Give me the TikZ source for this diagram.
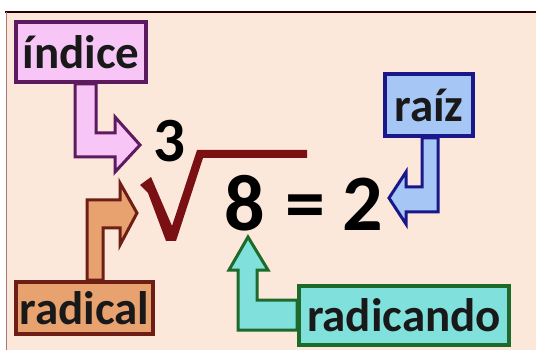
\documentclass[tikz,border=0pt]{standalone}
\usepackage{fontspec}
\setmainfont{Carlito}
\usepackage{xcolor}
\usepackage{tikz}

\definecolor{peach}{HTML}{FCE8DB}
\definecolor{idxfill}{HTML}{F7C6F7}
\definecolor{idxline}{HTML}{5E1A5E}
\definecolor{rootfill}{HTML}{A6C6F6}
\definecolor{rootline}{HTML}{18188A}
\definecolor{radfill}{HTML}{E8A270}
\definecolor{radline}{HTML}{6E1E14}
\definecolor{argfill}{HTML}{80E0DC}
\definecolor{argline}{HTML}{1D6A2A}
\definecolor{signred}{HTML}{7A0F14}

\begin{document}
\begin{tikzpicture}[
  x=1pt,
  y=-1pt,
  tagbox/.style={line width=3.6pt, inner sep=0pt,
    font=\fontsize{47}{50}\selectfont\bfseries, text=black!90},
  idxbox/.style={tagbox, draw=idxline, fill=idxfill},
  rootbox/.style={tagbox, draw=rootline, fill=rootfill},
  radbox/.style={tagbox, draw=radline, fill=radfill},
  argbox/.style={tagbox, draw=argline, fill=argfill},
  blockarrow/.style={line width=3pt, line join=miter},
  idxarrow/.style={blockarrow, draw=idxline, fill=idxfill},
  rootarrow/.style={blockarrow, draw=rootline, fill=rootfill},
  radarrow/.style={blockarrow, draw=radline, fill=radfill},
  argarrow/.style={blockarrow, draw=argline, fill=argfill},
  bigterm/.style={font=\fontsize{80}{84}\selectfont\bfseries, text=black,
    inner sep=0pt, anchor=base},
  smallterm/.style={bigterm, font=\fontsize{63}{66}\selectfont\bfseries}
]
\useasboundingbox (0,0) rectangle (536,350);

% Page background with the frame on top and left.
\fill[white] (0,0) rectangle (536,350);
\fill[peach] (6,12) rectangle (536,350);
\draw[line width=2.5pt, draw=black!85!red] (5,12) -- (536,12);
\draw[line width=0.9pt, draw=radline!60] (6,12) -- (6,350);

% The equation: index, radical sign, radicand and root.
\node[smallterm] (three) at (169,162) {3};
\fill[signred] (140,185) -- (151,177) -- (172,226) -- (197,150)
  -- (307,150) -- (307,158) -- (203,158) -- (176,241) -- (166,241)
  -- (148,193) -- cycle;
\coordinate (sign) at (137,213);
\node[bigterm] (eight) at (245,230) {8};
\node[bigterm] (equals) at (305,230) {=};
\node[bigterm] (two) at (363,230) {2};

% Label boxes.
\node[idxbox, minimum width=130pt, minimum height=60pt] (indice)
  at (81,52) {índice};
\node[rootbox, minimum width=88pt, minimum height=62pt] (raiz)
  at (429,105) {raíz};
\node[radbox, minimum width=137pt, minimum height=52pt] (radical)
  at (84.5,308) {radical};
\node[argbox, minimum width=210pt, minimum height=59pt] (radicando)
  at (404,315.5) {radicando};

% Bent block arrows from each label to its part of the equation.
\filldraw[idxarrow] (75,0 |- indice.south) -- (75,157) -- (115,157)
  -- (115,172) -- (140,145) -- (115,117) -- (115,133) -- (96,133)
  -- (96,0 |- indice.south) -- cycle;
\filldraw[radarrow] (87,0 |- radical.north) -- (87,200) -- (120,200)
  -- (120,183) -- (sign) -- (120,245) -- (120,228) -- (103,228)
  -- (103,0 |- radical.north) -- cycle;
\filldraw[rootarrow] (422,0 |- raiz.south) -- (422,187) -- (406,187)
  -- (406,172) -- (389,198) -- (406,224) -- (406,212) -- (438,212)
  -- (438,0 |- raiz.south) -- cycle;
\filldraw[argarrow] (radicando.west |- 0,300) -- (257,300) -- (257,270)
  -- (268,270) -- (248,237) -- (229,270) -- (238,270) -- (238,330)
  -- (radicando.west |- 0,330) -- cycle;

\end{tikzpicture}
\end{document}
